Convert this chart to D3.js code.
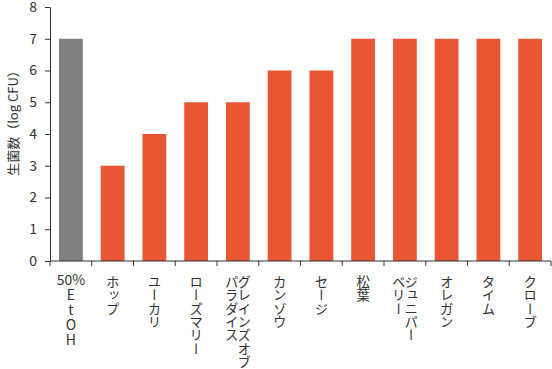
<!DOCTYPE html>
<html>
<head>
<meta charset="utf-8">
<script src="https://cdn.jsdelivr.net/npm/d3@7"></script>
<style>
  body { margin: 0; background: #fff; }
  text { font-family: "Noto Sans CJK JP", "Noto Sans", sans-serif; fill: #333; }
</style>
</head>
<body>
<div class="container"></div>
<script>
const categories = ['50% EtOH', 'ホップ', 'ユーカリ', 'ローズマリー', 'グレインズオブパラダイス',
  'カンゾウ', 'セージ', '松葉', 'ジュニパーベリー', 'オレガン', 'タイム', 'クローブ'];
// label columns, right to left (vertical text)
const labelLines = [['50%', 'EtOH'], ['ホップ'], ['ユーカリ'], ['ローズマリー'], ['グレインズオブ', 'パラダイス'],
  ['カンゾウ'], ['セージ'], ['松葉'], ['ジュニパー', 'ベリー'], ['オレガン'], ['タイム'], ['クローブ']];
const values = [7, 3, 4, 5, 5, 6, 6, 7, 7, 7, 7, 7];
const yTicks = [0, 1, 2, 3, 4, 5, 6, 7, 8];
const yTitle = '生菌数（log CFU）';

const width = 552;
const height = 369;
const margin = { top: 7, right: 1, bottom: 108, left: 50 };

const svg = d3
  .select('.container')
  .append('svg')
  .attr('width', width)
  .attr('height', height);

const xScale = d3
  .scaleBand()
  .domain(categories)
  .range([margin.left, width - margin.right])
  .paddingInner(0.43)
  .paddingOuter(0.215);

const yScale = d3
  .scaleLinear()
  .domain([0, 8])
  .range([height - margin.bottom, margin.top]);

// bars
svg
  .append('g')
  .selectAll('rect')
  .data(values)
  .enter()
  .append('rect')
  .attr('x', (d, i) => xScale(categories[i]))
  .attr('y', (d) => yScale(d))
  .attr('width', xScale.bandwidth())
  .attr('height', (d) => yScale(0) - yScale(d))
  .attr('fill', (d, i) => (i === 0 ? '#808080' : '#e85633'));

// y axis
const yAxis = d3.axisLeft(yScale).tickValues(yTicks).tickSize(5).tickSizeOuter(0).tickPadding(8);
const gy = svg
  .append('g')
  .attr('transform', `translate(${margin.left},0)`)
  .call(yAxis);
gy.select('.domain').attr('stroke', '#333');
gy.selectAll('.tick line').attr('stroke', '#333');
gy.selectAll('.tick text')
  .attr('font-size', '14px')
  .attr('fill', '#333')
  .style('font-family', '"Noto Sans CJK JP", sans-serif');

// x axis: ticks at band boundaries
const step = xScale.step();
const boundaries = d3.range(categories.length + 1).map((i) => margin.left + i * step);
const gx = svg.append('g');
gx.append('line')
  .attr('x1', margin.left)
  .attr('x2', width - margin.right)
  .attr('y1', yScale(0))
  .attr('y2', yScale(0))
  .attr('stroke', '#333');
gx.selectAll('line.tick')
  .data(boundaries)
  .enter()
  .append('line')
  .attr('class', 'tick')
  .attr('x1', (d) => d)
  .attr('x2', (d) => d)
  .attr('y1', yScale(0))
  .attr('y2', yScale(0) + 5)
  .attr('stroke', '#333');

// x labels (vertical)
const labelTop = yScale(0) + 14;
const colGap = 12.5;
labelLines.forEach((lines, i) => {
  const cx = xScale(categories[i]) + xScale.bandwidth() / 2;
  if (i === 0) {
    svg.append('text')
      .attr('x', cx)
      .attr('y', labelTop + 10)
      .attr('text-anchor', 'middle')
      .attr('font-size', '14px')
      .text(lines[0]);
    svg.append('text')
      .attr('x', cx)
      .attr('y', labelTop + 13)
      .attr('font-size', '14px')
      .attr('letter-spacing', '1px')
      .style('writing-mode', 'vertical-rl')
      .style('text-orientation', 'upright')
      .text(lines[1]);
    return;
  }
  const n = lines.length;
  lines.forEach((line, j) => {
    const x = cx + ((n - 1) / 2 - j) * colGap;
    svg.append('text')
      .attr('x', x)
      .attr('y', labelTop)
      .attr('font-size', '13.4px')
      .style('writing-mode', 'vertical-rl')
      .text(line);
  });
});

// y title
svg.append('text')
  .attr('transform', `translate(18, 120) rotate(-90)`)
  .attr('text-anchor', 'middle')
  .attr('font-size', '13px')
  .text(yTitle);
</script>
</body>
</html>
